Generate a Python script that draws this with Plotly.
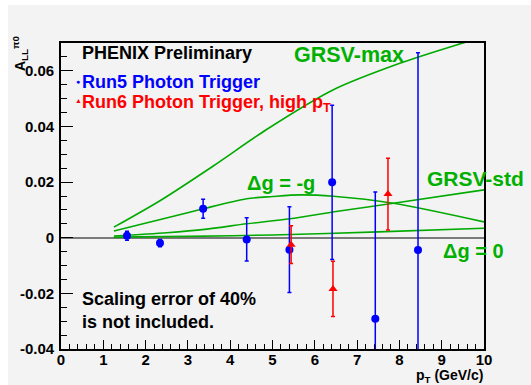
import plotly.graph_objects as go

# ---- data ----
run5_pt = [1.56, 2.34, 3.36, 4.39, 5.40, 6.41, 7.43, 8.44]
run5_all = [0.0007, -0.0019, 0.0104, -0.0006, -0.0043, 0.0199, -0.0291, -0.0044]
run5_err = [0.0016, 0.0013, 0.0034, 0.0078, 0.0154, 0.0277, 0.0455, 0.0709]

run6_pt = [5.44, 6.43, 7.73]
run6_all = [-0.0025, -0.0184, 0.0157]
run6_err = [0.0068, 0.0099, 0.0129]

grsv_max_pt = [1.25, 2.34, 3.60, 4.86, 6.44, 8.01, 9.35, 10.0]
grsv_max_all = [0.0038, 0.0133, 0.0258, 0.0389, 0.0532, 0.0627, 0.0693, 0.0722]

dg_minus_g_pt = [1.25, 2.73, 3.36, 4.39, 5.0, 5.65, 6.44, 7.86, 10.0]
dg_minus_g_all = [0.0024, 0.0080, 0.0104, 0.0140, 0.0148, 0.0154, 0.0149, 0.0124, 0.0057]

grsv_std_pt = [1.25, 2.5, 3.4, 4.39, 5.41, 6.5, 7.86, 10.0]
grsv_std_all = [0.0006, 0.0018, 0.0030, 0.0050, 0.0068, 0.0094, 0.0124, 0.0172]

dg_zero_pt = [1.25, 3.0, 5.0, 7.5, 10.0]
dg_zero_all = [0.0002, 0.0005, 0.0010, 0.0021, 0.0034]

ytick_vals = [-0.04, -0.02, 0, 0.02, 0.04, 0.06]
ytick_text = ["-0.04", "-0.02", "0", "0.02", "0.04", "0.06"]
xtick_vals = [0, 1, 2, 3, 4, 5, 6, 7, 8, 9, 10]

# ---- layout geometry (pixels) ----
W, H = 531, 385
L, R, T, B = 61, 484, 43, 349


def xp(px):
    return (px - L) / (R - L)


def yp(py):
    return (B - py) / (B - T)


GREEN = "#00b000"
LGREEN = "#00aa00"
FONT = "Liberation Sans, Arial, Helvetica, sans-serif"

fig = go.Figure()

for xs, ys in [(grsv_max_pt, grsv_max_all), (dg_minus_g_pt, dg_minus_g_all),
               (grsv_std_pt, grsv_std_all), (dg_zero_pt, dg_zero_all)]:
    fig.add_trace(go.Scatter(x=xs, y=ys, mode="lines",
                             line=dict(color=LGREEN, width=1.6, shape="spline", smoothing=0.8),
                             showlegend=False, hoverinfo="skip"))

fig.add_trace(go.Scatter(
    x=run5_pt, y=run5_all, mode="markers",
    marker=dict(color="#0000ff", size=8, symbol="circle"),
    error_y=dict(type="data", array=run5_err, color="#0000ff", thickness=1.5, width=2),
    showlegend=False))

fig.add_trace(go.Scatter(
    x=run6_pt, y=run6_all, mode="markers",
    marker=dict(color="#ff0000", size=8, symbol="triangle-up"),
    error_y=dict(type="data", array=run6_err, color="#ff0000", thickness=1.5, width=2),
    showlegend=False))

bold = dict(family=FONT, weight="bold")


def ann(text, px, py, size, color, xanchor="left", yanchor="middle", **kw):
    fig.add_annotation(text=text, x=xp(px), y=yp(py), xref="paper", yref="paper",
                       xanchor=xanchor, yanchor=yanchor, showarrow=False,
                       font=dict(size=size, color=color, **bold), **kw)


ann("PHENIX Preliminary", 80, 53, 18, "black")
ann("●", 77.7, 81.5, 7, "#0000ff", xanchor="center")
ann("Run5 Photon Trigger", 80, 82, 18, "#0000ff")
ann("▲", 78, 100.5, 7, "#ff0000", xanchor="center")
ann("Run6 Photon Trigger, high p<sub>T</sub>", 80, 103, 18, "#ff0000")
ann("GRSV-max", 292, 55, 21.5, GREEN)
ann("GRSV-std", 425, 178, 21, GREEN)
ann("Δg = -g", 245, 183, 20, GREEN)
ann("Δg = 0", 441, 251, 20, GREEN)
ann("Scaling error of 40%<br>is not included.", 80, 310, 18, "black", align="left")
ann("A<sub>LL</sub><sup>π0</sup>", 20, 53, 14, "black", xanchor="center", textangle=-90)
ann("p<sub>T</sub> (GeV/c)", 485, 376, 14, "black", xanchor="right")

# white border strips (top and left) as in the reference
fig.add_shape(type="rect", xref="paper", yref="paper", x0=xp(0), x1=xp(W), y0=yp(0), y1=yp(5),
              fillcolor="white", line=dict(width=0), layer="below")
fig.add_shape(type="rect", xref="paper", yref="paper", x0=xp(0), x1=xp(8), y0=yp(0), y1=yp(H),
              fillcolor="white", line=dict(width=0), layer="below")

fig.update_xaxes(range=[0, 10], tickvals=xtick_vals, ticks="inside", ticklen=9, tickwidth=1.2,
                 tickcolor="black", showline=True, linecolor="black", linewidth=1.6, mirror=True,
                 showgrid=False, zeroline=False, ticklabelstandoff=-4,
                 tickfont=dict(size=15, color="black", **bold),
                 minor=dict(dtick=0.2, ticks="inside", ticklen=5, tickcolor="black", tickwidth=1, showgrid=False))
fig.update_yaxes(range=[-0.04, 0.07], tickvals=ytick_vals, ticktext=ytick_text, ticks="inside",
                 ticklen=12, tickwidth=1.2, tickcolor="black", showline=True, linecolor="black",
                 linewidth=1.6, mirror=True, showgrid=False, zeroline=True, zerolinecolor="#7a7a7a",
                 zerolinewidth=2, ticklabelstandoff=2,
                 tickfont=dict(size=15, color="black", **bold),
                 minor=dict(dtick=0.005, tick0=0, ticks="inside", ticklen=6, tickcolor="black", tickwidth=1, showgrid=False))

fig.update_layout(width=W, height=H, margin=dict(l=L, r=W - R, t=T, b=H - B, pad=0),
                  paper_bgcolor="#f3f3f3", plot_bgcolor="#f3f3f3", showlegend=False,
                  font=dict(family=FONT))

fig.write_html("out.html")
